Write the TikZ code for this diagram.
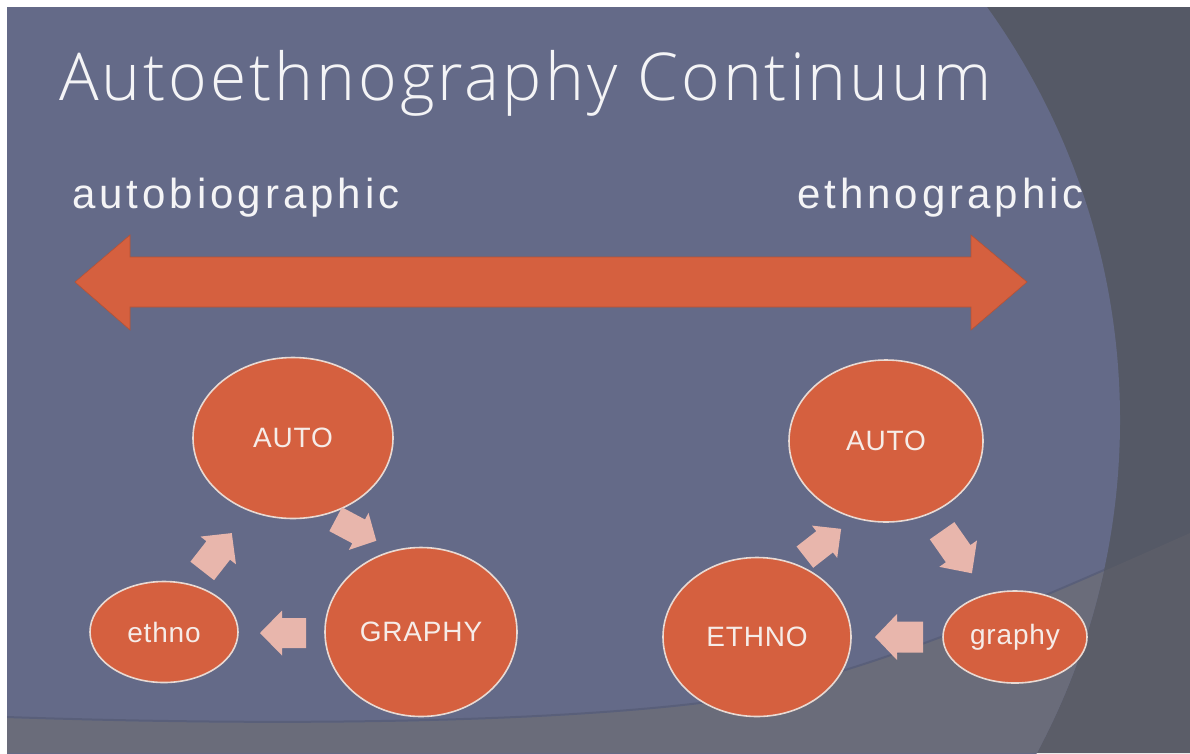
\documentclass[tikz,border=0pt]{standalone}
\usepackage{fontspec}
\setmainfont{Liberation Sans}
\newfontfamily\titlefont{Open Sans Light}
\usetikzlibrary{shapes.geometric}

\definecolor{cornerdark}{HTML}{555966}
\definecolor{banddark}{HTML}{5B5D68}
\definecolor{slatebg}{HTML}{646A88}
\definecolor{bandlight}{HTML}{6A6C7A}
\definecolor{orangefill}{HTML}{D5603F}
\definecolor{bubbleedge}{HTML}{E9DAD3}
\definecolor{bubbletext}{HTML}{F6ECE8}
\definecolor{pinkfill}{HTML}{E8B6AC}
\definecolor{softwhite}{HTML}{F4F4F6}

\tikzset{
  bubble/.style={ellipse, draw=bubbleedge, line width=1.6pt, fill=orangefill,
    text=bubbletext, inner sep=0pt,
    font=\fontsize{28}{28}\selectfont\addfontfeatures{LetterSpace=3}},
  heading/.style={anchor=base west, inner sep=0pt, text=softwhite},
  pinkarrow/.style={fill=pinkfill},
}

% block arrow: #1 centre, #2 angle, #3 length, #4 head length, #5 head width, #6 shaft width
\newcommand{\blockarrow}[6]{%
  \fill[pinkarrow, shift={#1}, rotate=#2]
    ({-#3/2},{#6/2}) -- ({#3/2-#4},{#6/2}) -- ({#3/2-#4},{#5/2}) -- ({#3/2},0)
    -- ({#3/2-#4},{-#5/2}) -- ({#3/2-#4},{-#6/2}) -- ({-#3/2},{-#6/2}) -- cycle;}

\begin{document}
\begin{tikzpicture}[x=1pt,y=-1pt]
\useasboundingbox (0,0) rectangle (1190,753);
\fill[white] (0,0) rectangle (1190,753);

% background: dark field, lower band, large lighter oval
\def\bandpath{(7,718) .. controls (300,728) and (550,722) .. (700,704)
  .. controls (850,686) and (1050,595) .. (1190,533) -- (1190,753) -- (7,753) -- cycle}
\fill[cornerdark] (7,7) rectangle (1190,753);
\fill[banddark] \bandpath;
\begin{scope}
  \clip (7,7) rectangle (1190,753);
  \fill[slatebg] (400,420) ellipse [x radius=720, y radius=713];
  \clip (400,420) ellipse [x radius=720, y radius=713];
  \fill[bandlight] \bandpath;
  \draw[slatebg!80!black, line width=2pt, opacity=0.5]
    (7,717) .. controls (300,727) and (550,721) .. (700,703)
    .. controls (850,685) and (1050,594) .. (1190,532);
\end{scope}

% title and scale ends
\node[heading, font=\titlefont\fontsize{66}{66}\selectfont\addfontfeatures{LetterSpace=4.5}] (title) at (59,100) {Autoethnography Continuum};
\node[heading, font=\fontsize{42}{42}\selectfont\addfontfeatures{LetterSpace=9.5}] (autolab) at (72,208) {autobiographic};
\node[heading, font=\fontsize{42}{42}\selectfont\addfontfeatures{LetterSpace=9.5}] (ethnolab) at (797,208) {ethnographic};

% continuum double arrow
\fill[orangefill, draw=orangefill!85!black, line width=0.6pt]
  (75,282) -- (130,235) -- (130,257) -- (971,257) -- (971,235) -- (1027,282)
  -- (971,330) -- (971,307) -- (130,307) -- (130,330) -- cycle;

% left cycle
\node[bubble, minimum width=200pt, minimum height=161pt] (lauto) at (293,438) {AUTO};
\node[bubble, minimum width=192pt, minimum height=169pt] (lgraphy) at (421,632) {GRAPHY};
\node[bubble, minimum width=148pt, minimum height=101pt] (lethno) at (164,632) {ethno};
\blockarrow{(356,530)}{-28}{46}{20}{42}{27}
\blockarrow{(283,633)}{180}{46}{22}{45}{30}
\blockarrow{(217,552)}{52}{48}{22}{45}{30}

% right cycle
\node[bubble, minimum width=194pt, minimum height=162pt] (rauto) at (886,441) {AUTO};
\node[bubble, minimum width=188pt, minimum height=159pt] (rethno) at (757,637) {ETHNO};
\node[bubble, minimum width=144pt, minimum height=92pt] (rgraphy) at (1015,637) {graphy};
\blockarrow{(957,552)}{-55}{52}{24}{46}{30}
\blockarrow{(899,637)}{180}{48}{22}{46}{31}
\blockarrow{(823,543)}{38}{46}{21}{41}{27}
\end{tikzpicture}
\end{document}
